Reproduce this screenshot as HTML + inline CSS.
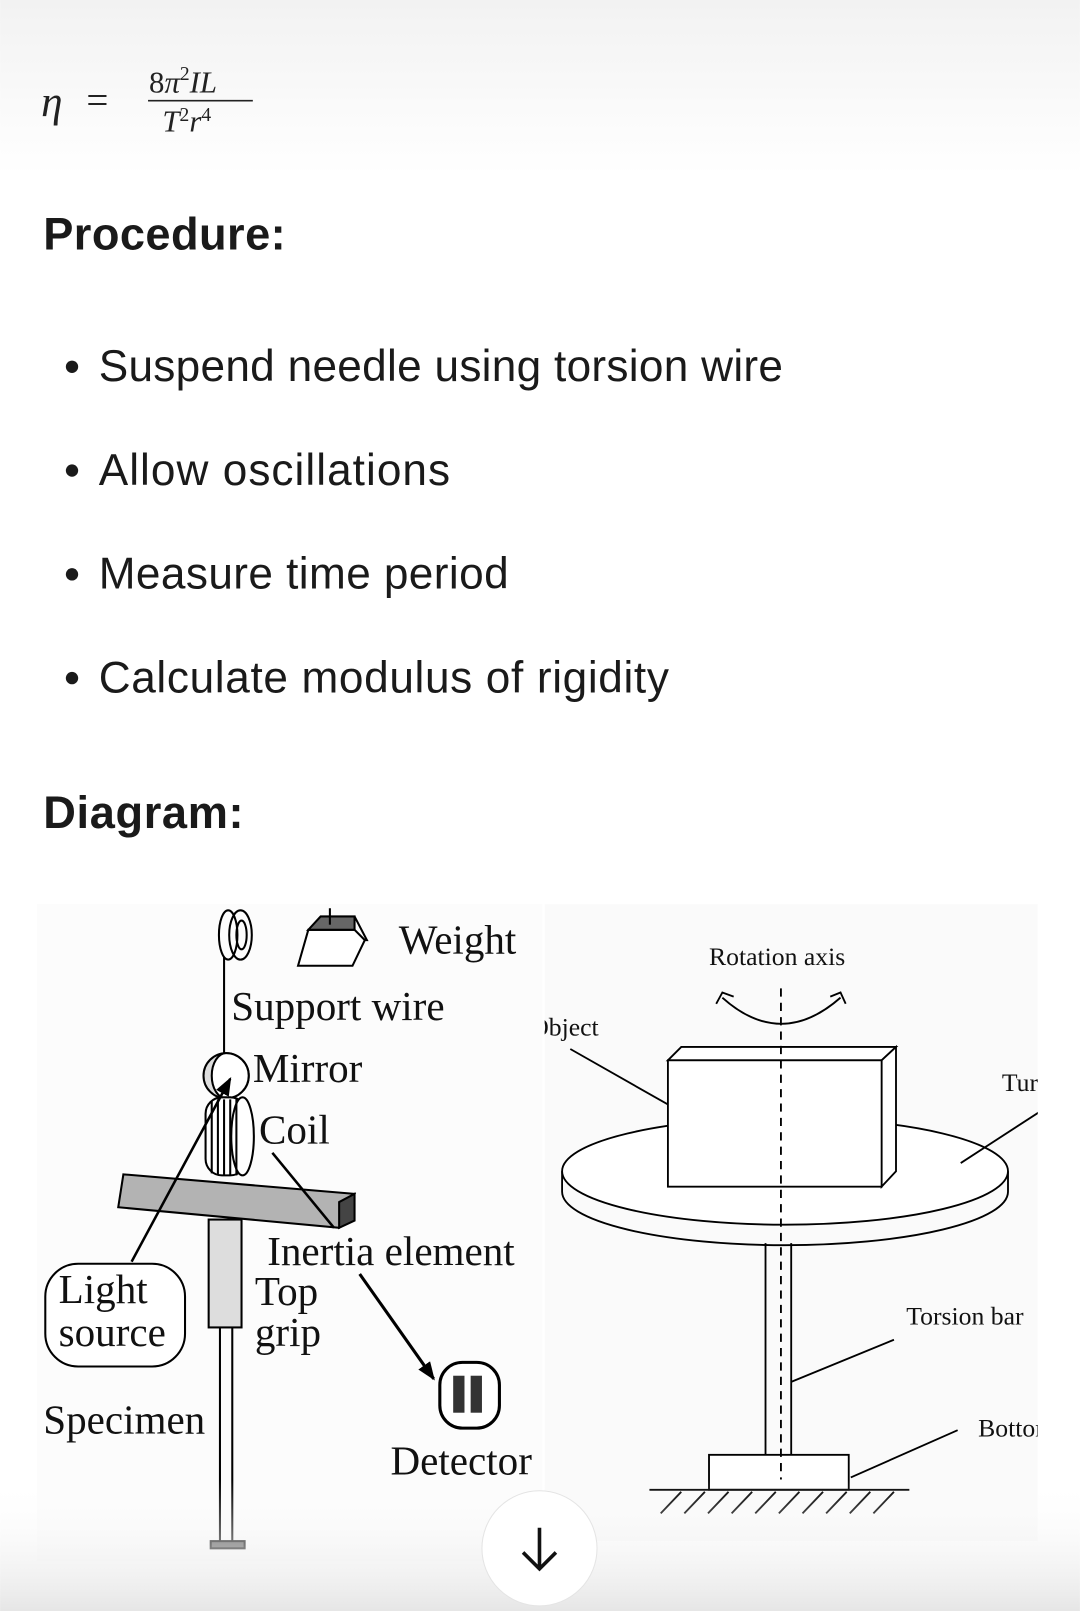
<!DOCTYPE html>
<html><head><meta charset="utf-8"><style>
html,body{margin:0;padding:0;background:#fff;}
svg{display:block}
</style></head><body>
<svg width="1080" height="1611" viewBox="0 0 1051 1568" xmlns="http://www.w3.org/2000/svg">
<defs>
<linearGradient id="tg" x1="0" y1="0" x2="0" y2="1"><stop offset="0" stop-color="#f2f2f2"/><stop offset="1" stop-color="#ffffff"/></linearGradient>
<linearGradient id="bg" x1="0" y1="0" x2="0" y2="1"><stop offset="0" stop-color="#ffffff" stop-opacity="0"/><stop offset="1" stop-color="#e6e6e6"/></linearGradient>
<clipPath id="rc"><rect x="530" y="880" width="480" height="620"/></clipPath>
<marker id="ah" markerWidth="18" markerHeight="14" refX="16" refY="7" orient="auto" markerUnits="userSpaceOnUse"><path d="M0,0 L18,7 L0,14 z" fill="#000"/></marker>
</defs>
<rect width="1051" height="1568" fill="#fff"/>
<rect width="1051" height="170" fill="url(#tg)"/>
<g font-family="Liberation Serif, serif" font-style="italic" fill="#222">
<text x="40" y="113" font-size="42">η</text>
<text x="84" y="110" font-size="38" font-style="normal">=</text>
<text x="145" y="90" font-size="30"><tspan font-style="normal">8</tspan>π<tspan font-size="19" dy="-12" font-style="normal">2</tspan><tspan dy="12">IL</tspan></text>
<line x1="144" y1="98" x2="246" y2="98" stroke="#222" stroke-width="1.5"/>
<text x="158" y="128" font-size="30">T<tspan font-size="19" dy="-10" font-style="normal">2</tspan><tspan dy="10">r</tspan><tspan font-size="19" dy="-10" font-style="normal">4</tspan></text>
</g>
<g font-family="Liberation Sans, sans-serif" fill="#1a1a1a">
<text x="42" y="243" font-size="44" font-weight="bold" textLength="236">Procedure:</text>
<circle cx="70" cy="357" r="6"/><text x="96" y="371" font-size="43" textLength="666">Suspend needle using torsion wire</text>
<circle cx="70" cy="458" r="6"/><text x="96" y="472" font-size="43" textLength="342">Allow oscillations</text>
<circle cx="70" cy="559" r="6"/><text x="96" y="573" font-size="43" textLength="399">Measure time period</text>
<circle cx="70" cy="660" r="6"/><text x="96" y="674" font-size="43" textLength="555">Calculate modulus of rigidity</text>
<text x="42" y="806" font-size="44" font-weight="bold" textLength="195">Diagram:</text>
</g>
<rect x="36" y="880" width="492" height="640" fill="#fcfcfc"/>
<g stroke="#000" stroke-width="2" fill="none">
<ellipse cx="222" cy="910" rx="9" ry="24"/><ellipse cx="234" cy="910" rx="11" ry="24"/><ellipse cx="235" cy="910" rx="5" ry="14"/>
<line x1="218" y1="932" x2="218" y2="1030"/>
<path d="M290,940 L300,905 L345,905 L355,915 L343,940 Z" fill="#fff"/>
<path d="M300,905 L312,892 L345,892 L345,905 Z" fill="#666"/>
<path d="M345,892 L357,915 L355,915" />
<line x1="321" y1="884" x2="321" y2="900"/>
<circle cx="220" cy="1047" r="22" fill="#ddd"/>
<path d="M220,1025 A22,22 0 0 1 220,1069 A14,22 0 0 1 220,1025Z" fill="#fff"/>
<rect x="200" y="1068" width="40" height="76" rx="16" fill="#fff"/>
<ellipse cx="236" cy="1106" rx="11" ry="38" fill="#fff"/>
<path d="M206,1072 v70 M212,1070 v74 M218,1070 v74 M224,1070 v74 M230,1070 v74"/>
<path d="M120,1143 L345,1162 L330,1195 L115,1175 Z" fill="#b3b3b3"/>
<path d="M330,1170 L345,1162 L345,1188 L330,1195Z" fill="#444"/>
<rect x="203" y="1187" width="32" height="105" fill="#ddd"/>
<line x1="214" y1="1292" x2="214" y2="1500"/><line x1="226" y1="1292" x2="226" y2="1500"/>
<rect x="205" y="1500" width="33" height="7" fill="#555"/>
<rect x="44" y="1230" width="136" height="100" rx="32" fill="#fff"/>
<line x1="128" y1="1228" x2="224" y2="1050" stroke-width="2.5" marker-end="url(#ah)"/>
<line x1="265" y1="1122" x2="325" y2="1195" stroke-width="2.5"/>
<line x1="350" y1="1240" x2="422" y2="1342" stroke-width="3" marker-end="url(#ah)"/>
<rect x="428" y="1326" width="58" height="64" rx="22" fill="#fff" stroke-width="3"/>
</g>
<rect x="441" y="1339" width="11" height="36" fill="#333"/><rect x="458" y="1339" width="11" height="36" fill="#333"/>
<g font-family="Liberation Serif, serif" font-size="40" fill="#111">
<text x="388" y="928">Weight</text>
<text x="225" y="993">Support wire</text>
<text x="246" y="1053">Mirror</text>
<text x="252" y="1113">Coil</text>
<text x="260" y="1231">Inertia element</text>
<text x="248" y="1270">Top</text>
<text x="248" y="1310">grip</text>
<text x="57" y="1268">Light</text>
<text x="57" y="1310">source</text>
<text x="42" y="1395">Specimen</text>
<text x="380" y="1435">Detector</text>
</g>
<g clip-path="url(#rc)">
<rect x="530" y="880" width="480" height="620" fill="#fafafa"/>
<g stroke="#000" stroke-width="1.8" fill="none">
<path d="M547,1140 v20 A217,52 0 0 0 981,1160 v-20"/>
<ellipse cx="764" cy="1140" rx="217" ry="52" fill="#fff"/>
<path d="M650,1032 L663,1019 L872,1019 L858,1032 Z" fill="#fff"/>
<path d="M858,1032 L872,1019 L872,1140 L858,1155 Z" fill="#fff"/>
<rect x="650" y="1032" width="208" height="123" fill="#fff"/>
<line x1="745" y1="1210" x2="745" y2="1418"/><line x1="770" y1="1210" x2="770" y2="1418"/>
<rect x="690" y="1416" width="136" height="34" fill="#fff"/>
<line x1="632" y1="1450" x2="885" y2="1450"/>
<path d="M643,1473 L663,1452 M666,1473 L686,1452 M689,1473 L709,1452 M712,1473 L732,1452 M735,1473 L755,1452 M758,1473 L778,1452 M781,1473 L801,1452 M804,1473 L824,1452 M827,1473 L847,1452 M850,1473 L870,1452"/>
<line x1="760" y1="962" x2="760" y2="1440" stroke-dasharray="8,6"/>
<path d="M703,971 Q760,1022 818,971"/>
<path d="M697,977 L703,966 L714,970 M808,970 L818,966 L823,977"/>
<line x1="555" y1="1021" x2="650" y2="1075"/>
<line x1="935" y1="1132" x2="1012" y2="1082"/>
<line x1="770" y1="1345" x2="870" y2="1304"/>
<line x1="828" y1="1438" x2="932" y2="1392"/>
</g>
<g font-family="Liberation Serif, serif" font-size="25" fill="#111">
<text x="690" y="939">Rotation axis</text>
<text x="516" y="1008">Object</text>
<text x="975" y="1062">Turntable</text>
<text x="882" y="1289">Torsion bar</text>
<text x="952" y="1398">Bottom</text>
</g>
</g>
<rect x="0" y="1440" width="1051" height="128" fill="url(#bg)"/>
<circle cx="525" cy="1507" r="56" fill="#fff" stroke="#e4e4e4"/>
<path d="M525,1487 v38 M509,1511 L525,1527 L541,1511" stroke="#111" stroke-width="3.5" fill="none"/>
</svg>
</body></html>
